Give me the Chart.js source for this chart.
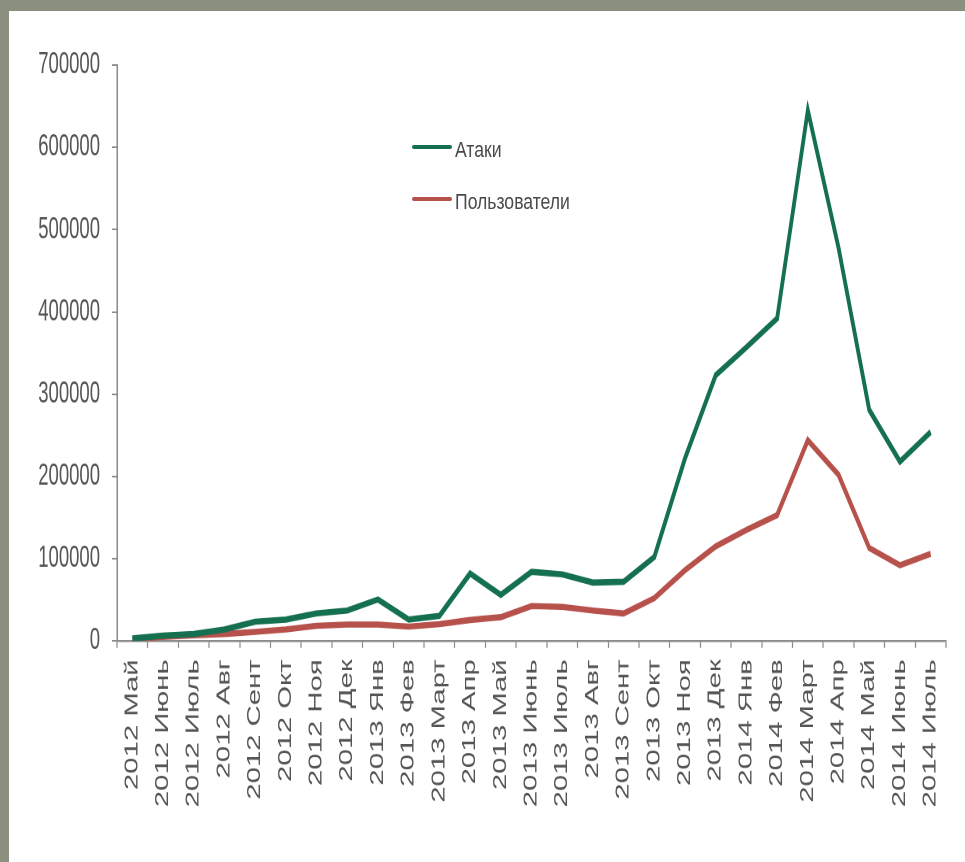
<!DOCTYPE html>
<html lang="ru">
<head>
<meta charset="utf-8">
<title>Атаки и пользователи</title>
<script src="https://cdn.jsdelivr.net/npm/chart.js@4.4.1/dist/chart.umd.min.js"></script>
<style>
  html, body { margin: 0; padding: 0; }
  body { width: 965px; height: 862px; background: #8b8f7e; position: relative; overflow: hidden; }
  #panel { position: absolute; left: 9px; top: 11px; right: 0; bottom: 0; background: #fff; }
  /* the chart is drawn short and stretched tall, like the slide it came from */
  #stretch { position: absolute; left: 0; top: 0; width: 965px; height: 530px; transform-origin: 0 0; transform: scaleY(1.6264); }
  #dataChart { display: block; width: 965px; height: 530px; }
  #legend { position: absolute; left: 412px; top: 134px; font-family: "Liberation Sans", Arial, sans-serif; font-size: 22px; color: #4a4a4a; }
  #legend .item { display: flex; align-items: center; height: 26px; margin-bottom: 26px; white-space: nowrap; }
  #legend .swatch { width: 40px; height: 4px; border-radius: 2px; margin-right: 3px; }
  #legend .name { display: inline-block; transform: translateY(3px) scaleX(0.8); transform-origin: 0 50%; }
</style>
</head>
<body>
<div id="panel"></div>
<div id="stretch"><canvas id="dataChart" width="965" height="530"></canvas></div>
<div id="legend"></div>

<script>
const months = [
  "2012 Май", "2012 Июнь", "2012 Июль", "2012 Авг", "2012 Сент", "2012 Окт", "2012 Ноя", "2012 Дек",
  "2013 Янв", "2013 Фев", "2013 Март", "2013 Апр", "2013 Май", "2013 Июнь", "2013 Июль", "2013 Авг",
  "2013 Сент", "2013 Окт", "2013 Ноя", "2013 Дек",
  "2014 Янв", "2014 Фев", "2014 Март", "2014 Апр", "2014 Май", "2014 Июнь", "2014 Июль"
];
const attacks = [
  3000, 6500, 8500, 14000, 23500, 26000, 33500, 37000,
  50500, 26000, 30500, 82000, 56000, 84000, 81000, 71000,
  72000, 102000, 222000, 323000,
  357000, 392000, 645000, 478000, 281000, 218000, 254000
];
const users = [
  2000, 5000, 7000, 8500, 11000, 14000, 18500, 20000,
  20000, 17500, 20500, 25500, 29000, 42500, 41500, 37000,
  33500, 52000, 86000, 115000,
  135000, 153000, 244000, 202000, 113000, 92000, 106000
];
const yMax = 700000;
const yStep = 100000;

const labelFont = { family: "'Liberation Sans', Arial, sans-serif", size: 18 };

// legend as plain html, built from the datasets
const htmlLegend = {
  id: "htmlLegend",
  afterUpdate(chart) {
    const box = document.getElementById("legend");
    box.innerHTML = "";
    chart.data.datasets.forEach(function (ds) {
      const item = document.createElement("div");
      item.className = "item";
      const swatch = document.createElement("span");
      swatch.className = "swatch";
      swatch.style.background = ds.borderColor;
      const name = document.createElement("span");
      name.className = "name";
      name.textContent = ds.label;
      item.appendChild(swatch);
      item.appendChild(name);
      box.appendChild(item);
    });
  },
};

const ctx = document.getElementById("dataChart").getContext("2d");
const chart = new Chart(ctx, {
  type: "line",
  data: {
    labels: months,
    datasets: [
      {
        label: "Атаки",
        data: attacks,
        borderColor: "#15704f",
        backgroundColor: "#15704f",
        borderWidth: 3.8,
        pointRadius: 0,
        tension: 0,
        fill: false,
      },
      {
        label: "Пользователи",
        data: users,
        borderColor: "#b7514b",
        backgroundColor: "#b7514b",
        borderWidth: 3.8,
        pointRadius: 0,
        tension: 0,
        fill: false,
      },
    ],
  },
  options: {
    responsive: false,
    animation: false,
    devicePixelRatio: 2,
    layout: { padding: { top: 40, right: 19, bottom: 0, left: 0 } },
    plugins: {
      legend: { display: false },
      tooltip: { enabled: false },
    },
    scales: {
      x: {
        offset: true,
        grid: { offset: true, drawOnChartArea: false, drawTicks: true, tickLength: 4.3, tickColor: "#8a8a8a", tickWidth: 1.2 },
        border: { display: true, color: "#8a8a8a", width: 1.2 },
        ticks: {
          autoSkip: false,
          minRotation: 90,
          maxRotation: 90,
          padding: 7,
          color: "#555555",
          font: labelFont,
        },
        afterFit(scale) {
          scale.height = 135.9;
        },
      },
      y: {
        min: 0,
        max: yMax,
        grid: { drawOnChartArea: false, drawTicks: true, tickLength: 5, tickColor: "#8a8a8a", tickWidth: 1 },
        border: { display: true, color: "#8a8a8a", width: 1.5 },
        ticks: {
          stepSize: yStep,
          padding: 12,
          color: "#555555",
          font: { family: labelFont.family, size: 18.5 },
          callback: (value) => String(value),
        },
        afterFit(scale) {
          scale.width = 117;
        },
      },
    },
  },
  plugins: [htmlLegend],
});
</script>
</body>
</html>
